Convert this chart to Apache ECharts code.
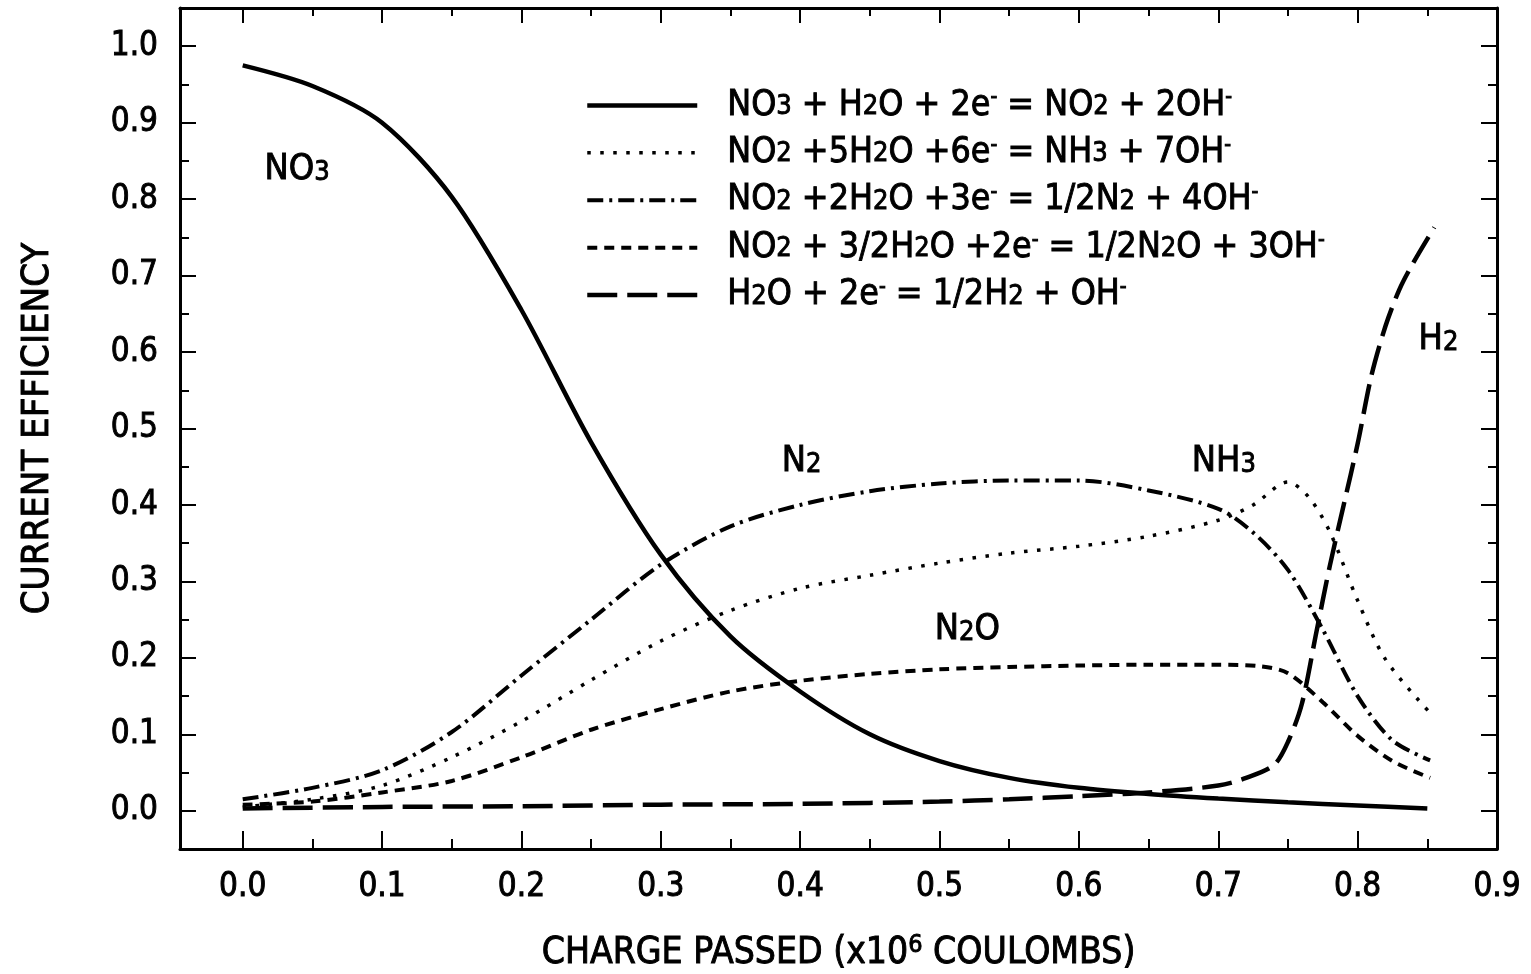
<!DOCTYPE html>
<html>
<head>
<meta charset="utf-8">
<title>Current efficiency vs charge passed</title>
<script src="https://cdn.jsdelivr.net/npm/echarts@6/dist/echarts.min.js"></script>
<style>
  html, body { margin: 0; padding: 0; background: #fff; }
  #chart { width: 1531px; height: 974px; }
</style>
</head>
<body>
<div id="chart"></div>
<script>
// Charge passed (x10^6 C) vs. current efficiency for each electrode reaction.
const no3Curve = [[0,0.975],[0.05,0.948],[0.1,0.90],[0.15,0.803],[0.2,0.655],[0.25,0.482],[0.3,0.335],[0.35,0.228],[0.4,0.156],[0.45,0.100],[0.5,0.065],[0.55,0.043],[0.6,0.030],[0.65,0.022],[0.7,0.016],[0.75,0.011],[0.8,0.007],[0.85,0.003]];
const nh3Curve = [[0,0.005],[0.05,0.015],[0.1,0.033],[0.15,0.07],[0.2,0.117],[0.25,0.171],[0.3,0.222],[0.35,0.262],[0.4,0.291],[0.45,0.308],[0.5,0.324],[0.55,0.337],[0.6,0.346],[0.65,0.359],[0.7,0.38],[0.725,0.40],[0.75,0.43],[0.765,0.41],[0.78,0.365],[0.8,0.275],[0.82,0.198],[0.852,0.128]];
const n2Curve = [[0,0.015],[0.05,0.03],[0.1,0.053],[0.15,0.103],[0.2,0.177],[0.25,0.250],[0.3,0.322],[0.35,0.372],[0.4,0.40],[0.45,0.418],[0.5,0.428],[0.55,0.432],[0.6,0.432],[0.65,0.419],[0.7,0.395],[0.725,0.364],[0.75,0.315],[0.775,0.237],[0.8,0.150],[0.825,0.092],[0.852,0.066]];
const n2oCurve = [[0,0.008],[0.05,0.012],[0.1,0.024],[0.15,0.039],[0.2,0.07],[0.25,0.106],[0.3,0.133],[0.35,0.156],[0.4,0.17],[0.45,0.179],[0.5,0.185],[0.55,0.188],[0.6,0.19],[0.65,0.191],[0.7,0.191],[0.73,0.189],[0.75,0.18],[0.775,0.142],[0.8,0.098],[0.825,0.065],[0.852,0.043]];
const h2Curve = [[0,0.003],[0.1,0.005],[0.2,0.006],[0.3,0.008],[0.4,0.009],[0.5,0.012],[0.55,0.015],[0.6,0.019],[0.65,0.024],[0.7,0.033],[0.72,0.043],[0.74,0.06],[0.75,0.09],[0.76,0.14],[0.77,0.23],[0.78,0.32],[0.79,0.40],[0.8,0.48],[0.81,0.57],[0.82,0.634],[0.83,0.682],[0.84,0.717],[0.855,0.763]];

// Reaction equations (legend); "_x" = subscript, "^x" = superscript
const reactionNames = [
  'NO_3 + H_2O + 2e^- = NO_2 + 2OH^-',
  'NO_2 +5H_2O +6e^- = NH_3 + 7OH^-',
  'NO_2 +2H_2O +3e^- = 1/2N_2 + 4OH^-',
  'NO_2 + 3/2H_2O +2e^- = 1/2N_2O + 3OH^-',
  'H_2O + 2e^- = 1/2H_2 + OH^-'
];

// Species labels placed next to their curves: [x, y, text]
const speciesLabels = [
  [0.039, 0.839, 'NO_3'],
  [0.401, 0.457, 'N_2'],
  [0.704, 0.457, 'NH_3'],
  [0.520, 0.237, 'N_2O'],
  [0.858, 0.616, 'H_2']
];

const xAxisTitle = 'CHARGE PASSED (x10^6 COULOMBS)';
const yAxisTitle = 'CURRENT EFFICIENCY';

const X_MIN = -0.045, X_MAX = 0.9;
const Y_MIN = -0.05, Y_MAX = 1.05;

const FONT = "'Liberation Sans Narrow', 'Arial Narrow', 'DejaVu Sans Condensed', 'Liberation Sans', sans-serif";
const ink = '#000';
// slight outline to give the type a heavier, printed look
const heavy = { textBorderColor: ink, textBorderWidth: 0.9 };

function toRich(s) {
  return s.replace(/_(\d)/g, '{sub|$1}').replace(/\^(.)/g, '{sup|$1}');
}

function fmtTick(lo, hi) {
  return function (v) {
    if (v < lo - 1e-9 || v > hi + 1e-9) return '';
    if (Math.abs(Math.round(v * 10) - v * 10) > 1e-6) return '';
    return Math.abs(v).toFixed(1);
  };
}

function xAxisDef(pos, step, tickLen, primary) {
  return {
    type: 'value', position: pos, min: X_MIN, max: X_MAX,
    minInterval: step, maxInterval: step, splitNumber: Math.round((X_MAX - X_MIN) / step),
    axisLine: { show: primary, onZero: false, lineStyle: { color: ink, width: 3 } },
    axisTick: { show: true, inside: true, length: tickLen, lineStyle: { color: ink, width: 2 } },
    axisLabel: { show: false },
    splitLine: { show: false }
  };
}
function yAxisDef(pos, step, tickLen, primary) {
  return {
    type: 'value', position: pos, min: Y_MIN, max: Y_MAX,
    minInterval: step, maxInterval: step, splitNumber: Math.round((Y_MAX - Y_MIN) / step),
    axisLine: { show: primary, onZero: false, lineStyle: { color: ink, width: 3 } },
    axisTick: { show: true, inside: true, length: tickLen, lineStyle: { color: ink, width: 2 } },
    axisLabel: { show: false },
    splitLine: { show: false }
  };
}

const xMain = xAxisDef('bottom', 0.1, 18, true);
xMain.axisLabel = Object.assign({ show: true, margin: 22, color: ink, fontSize: 33, fontFamily: FONT, formatter: fmtTick(0, 0.9) }, heavy);
xMain.name = toRich(xAxisTitle);
xMain.nameLocation = 'middle';
xMain.nameGap = 84;
xMain.nameTextStyle = Object.assign({
  color: ink, fontSize: 37, fontFamily: FONT, lineHeight: 40,
  rich: { sup: Object.assign({ fontSize: 25, lineHeight: 25, verticalAlign: 'top', fontFamily: FONT, color: ink }, heavy) }
}, heavy);

const yMain = yAxisDef('left', 0.1, 16, true);
yMain.axisLabel = Object.assign({ show: true, margin: 22, color: ink, fontSize: 33, fontFamily: FONT, formatter: fmtTick(0, 1.0) }, heavy);
yMain.name = yAxisTitle;
yMain.nameLocation = 'middle';
yMain.nameGap = 123;
yMain.nameTextStyle = Object.assign({ color: ink, fontSize: 38, fontFamily: FONT }, heavy);

const richLegend = {
  sub: Object.assign({ fontSize: 27, lineHeight: 27, verticalAlign: 'bottom', padding: [0, 0, 3, 0], fontFamily: FONT, color: ink }, heavy),
  sup: Object.assign({ fontSize: 21, lineHeight: 21, verticalAlign: 'top', fontFamily: FONT, color: ink }, heavy)
};
const richLabel = {
  sub: Object.assign({ fontSize: 27, lineHeight: 27, verticalAlign: 'bottom', padding: [0, 0, 3, 0], fontFamily: FONT, color: ink }, heavy)
};

const lineStyles = [
  { color: ink, width: 4.5, type: 'solid' },
  { color: ink, width: 3.5, type: [3.5, 9.5] },
  { color: ink, width: 4, type: [16, 6, 3, 6] },
  { color: ink, width: 4, type: [10, 7] },
  { color: ink, width: 4.5, type: [30, 10] }
];
const curves = [no3Curve, nh3Curve, n2Curve, n2oCurve, h2Curve];

const lineSeries = curves.map(function (data, i) {
  return {
    type: 'line', name: reactionNames[i], data: data,
    xAxisIndex: 0, yAxisIndex: 0,
    showSymbol: false, symbol: 'none',
    smooth: 0.3,
    lineStyle: lineStyles[i],
    itemStyle: { color: ink },
    silent: true, z: 3
  };
});

const labelSeries = {
  type: 'scatter', name: 'species', xAxisIndex: 0, yAxisIndex: 0,
  data: speciesLabels.map(function (d) { return [d[0], d[1]]; }),
  symbolSize: 1, itemStyle: { color: 'transparent', opacity: 1 }, silent: true,
  label: Object.assign({
    show: true, position: 'inside', color: ink, opacity: 1, fontSize: 36, lineHeight: 40, fontFamily: FONT,
    formatter: function (p) { return toRich(speciesLabels[p.dataIndex][2]); },
    rich: richLabel
  }, heavy)
};

const chart = echarts.init(document.getElementById('chart'), null, { renderer: 'canvas' });
chart.setOption({
  animation: false,
  backgroundColor: '#fff',
  grid: { left: 180, right: 34, top: 8, bottom: 125, containLabel: false, outerBoundsMode: 'none' },
  xAxis: [xMain, xAxisDef('bottom', 0.05, 10, false), xAxisDef('top', 0.1, 15, true), xAxisDef('top', 0.05, 8, false)],
  yAxis: [yMain, yAxisDef('left', 0.05, 9, false), yAxisDef('right', 0.1, 16, true), yAxisDef('right', 0.05, 9, false)],
  legend: {
    orient: 'vertical', left: 580, top: 82,
    itemWidth: 110, itemHeight: 16, itemGap: 10.5,
    selectedMode: false,
    itemStyle: { opacity: 0 },
    data: reactionNames.map(function (n, i) { return { name: n, lineStyle: { width: lineStyles[i].width } }; }),
    formatter: function (n) { return toRich(n); },
    textStyle: Object.assign({ color: ink, fontSize: 35.5, lineHeight: 36, fontFamily: FONT, padding: [0, 0, 0, 25], rich: richLegend }, heavy)
  },
  series: lineSeries.concat([labelSeries])
});
</script>
</body>
</html>
